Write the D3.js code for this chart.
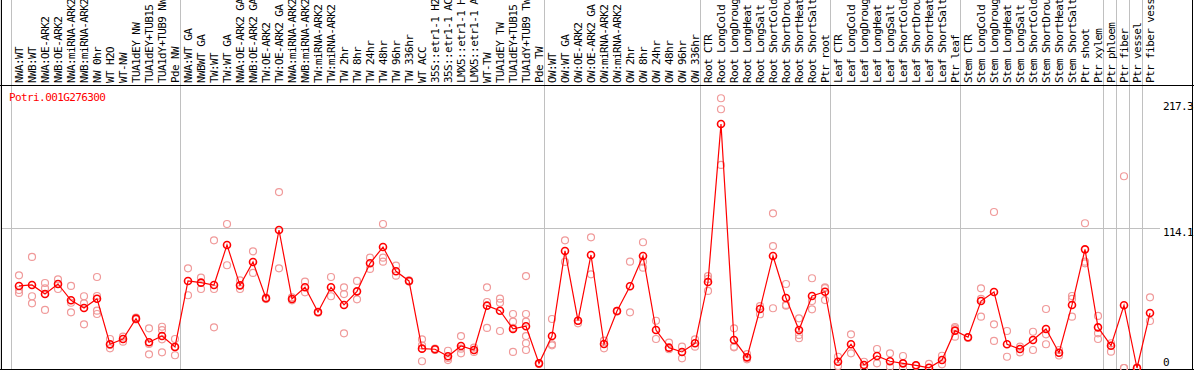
<!DOCTYPE html>
<html>
<head>
<meta charset="utf-8">
<script src="https://cdn.jsdelivr.net/npm/d3@7"></script>
<style>
  body { margin: 0; background: #fff; }
  svg { display: block; }
  text { font-family: "DejaVu Sans Mono", monospace; font-size: 11px; letter-spacing: -0.6px; }
</style>
</head>
<body>
<svg id="chart"></svg>
<script>
var W = 1194, H = 370;

var gene = "Potri.001G276300";

var samples = ["NWA:WT","NWB:WT","NWA:OE-ARK2","NWB:OE-ARK2","NWA:miRNA-ARK2","NWB:miRNA-ARK2","NW 0hr","WT H2O","WT-NW",
  "TUA1dEY NW","TUA1dEY+TUB15 NW","TUA1dY+TUB9 NW","Pde NW","NWA:WT GA","NWBWT GA","TW:WT","TW:WT GA",
  "NWA:OE-ARK2 GA","NWB:OE-ARK2 GA","TW:OE-ARK2","TW:OE-ARK2 GA","NWA:miRNA-ARK2","NWB:miRNA-ARK2","TW:miRNA-ARK2","TW:miRNA-ARK2",
  "TW 2hr","TW 8hr","TW 24hr","TW 48hr","TW 96hr","TW 336hr","WT ACC","35S::etr1-1 H2O","35S::etr1-1 ACC",
  "LMX5::etr1-1 H2O","LMX5::etr1-1 ACC","WT-TW","TUA1dEY TW","TUA1dEY+TUB15 TW","TUA1dY+TUB9 TW","Pde TW",
  "OW:WT","OW:WT GA","OW:OE-ARK2","OW:OE-ARK2 GA","OW:miRNA-ARK2","OW:miRNA-ARK2","OW 2hr","OW 8hr","OW 24hr","OW 48hr","OW 96hr","OW 336hr",
  "Root CTR","Root LongCold","Root LongDrought","Root LongHeat","Root LongSalt","Root ShortCold","Root ShortDrought","Root ShortHeat","Root ShortSalt","Ptr root",
  "Leaf CTR","Leaf LongCold","Leaf LongDrought","Leaf LongHeat","Leaf LongSalt","Leaf ShortCold","Leaf ShortDrought","Leaf ShortHeat","Leaf ShortSalt","Ptr leaf",
  "Stem CTR","Stem LongCold","Stem LongDrought","Stem LongHeat","Stem LongSalt","Stem ShortCold","Stem ShortDrought","Stem ShortHeat","Stem ShortSalt","Ptr shoot",
  "Ptr xylem","Ptr phloem","Ptr fiber","Ptr vessel","Ptr fiber vessel"];

// mean expression per sample
var means = [67.0,67.8,60.4,68.6,55.3,49.0,56.6,19.4,23.7,40.3,21.0,26.1,17.2,71.1,69.7,67.8,100.5,
  67.5,86.6,56.9,112.7,56.4,65.9,45.7,65.9,51.5,62.6,85.5,98.8,79.0,71.1,15.8,15.3,9.6,18.0,14.7,
  50.9,46.8,31.9,34.1,3.8,26.1,95.6,38.6,92.3,19.6,46.6,66.7,91.5,31.0,16.6,13.1,20.2,
  70.2,199.3,22.9,8.7,48.2,91.5,57.2,31.0,58.8,62.3,
  5.1,19.4,2.5,9.8,5.5,3.8,2.2,0.2,6.5,30.5,
  25.1,54.7,62.1,19.4,15.5,22.9,31.9,12.5,51.5,96.9,
  33.2,18.2,51.2,0,44.9];

// individual replicates per sample
var reps = [[75.7,63.7,61.3],[90.7,58.6,52.8],[69.4,65.1,47.4],[72.4,64.5,68.6],[67.0,53.3,45.5],[58.6,52.8,35.7],
  [74.3,58.8,46.8,44.1],[23.7,16.1,18.8],[25.6,21.5],[41.1,39.6],[32.4,11.2,19.6],[33.7,31.0,23.4,12.8],[23.7,10.4,17.2],
  [81.4,59.4],[73.8,64.5],[104.3,64.5,33.2],[117.6,83.9],[71.6,64.5],[95.3,77.6],[57.5,56.3],[143.7,81.4],[57.7,55.3],
  [70.5,61.8],[45.7,45.2],[74.3,58.6],[65.9,60.4,28.3],[71.1,56.1],[90.1,80.9],[117.6,90.1,86.8],[83.6,75.4],[71.6,70.6],
  [23.4,5.5,18.4],[15.8,14.8],[14.1,6.5,8.2],[26.1,12.0,15.8],[16.6,13.1],[65.9,32.7,53.9],[56.6,53.3,30.2],
  [44.1,37.8,13.1,32.7],[75.1,44.1,37.8,26.1,20.2,14.7],[3.8,3.3],[40.0,19.4,18.5],[104.3,86.6],[38.6,36.5],[106.7,76.5],
  [16.1,22.3],[46.6,46.1],[86.8,45.5],[102.7,86.8,81.9],[38.6,23.7],[20.7,15.3],[17.4,7.9],[23.4,17.4],
  [75.1,62.9,72.7],[220.3,211.3,165.8],[32.4,17.4,16.9],[11.4,7.1],[50.6,43.9],[126.3,99.6,48.8],[68.6,51.5,50.9],
  [40.6,24.3,27.0],[73.3,47.9,54.7],[65.9,55.5,65.3],
  [9.2,1.6],[27.5,12.0],[5.1,0],[15.5,3.8],[12.0,1.1],[9.8,0],[2.2,1.8],[3.3,0],[10.0,3.0],[32.4,25.6,33.5],
  [25.1,24.6],[65.1,56.4,41.9],[127.4,35.7,22.1],[30.2,9.2],[17.4,12.8],[29.6,14.7],[48.2,27.5,19.4],[14.7,10.2],
  [56.4,41.9,58.8],[118.2,86.8,85.5],
  [42.5,28.3,23.7],[20.2,13.3],[156.6,0,0],[0,0.4],[57.7,38.4]];

// sample index where a new group starts (vertical separators)
var groupStarts = [0,13,41,53,63,73,84,85,86,87,88];

var yTicks = [217.3, 114.1, 0];

var svg = d3.select("#chart").attr("width", W).attr("height", H);

var x = d3.scaleBand()
  .domain(d3.range(samples.length))
  .range([12.5, 12.5 + 13 * samples.length])
  .padding(0);

var y = d3.scaleLinear()
  .domain([0, 217.3])
  .range([368, 101.9]);

function cx(i) { return x(i) + x.bandwidth() / 2; }

// separators
svg.append("g").selectAll("line")
  .data(groupStarts)
  .enter().append("line")
    .attr("x1", function(d) { return Math.round(x(d) - 2) + 0.5; })
    .attr("x2", function(d) { return Math.round(x(d) - 2) + 0.5; })
    .attr("y1", 0).attr("y2", H)
    .attr("stroke", "#c0c0c0").attr("stroke-width", 1);

// horizontal grid at 114.1
svg.append("line")
  .attr("x1", 2).attr("x2", 1160)
  .attr("y1", Math.round(y(114.1)) + 0.5).attr("y2", Math.round(y(114.1)) + 0.5)
  .attr("stroke", "#c0c0c0").attr("stroke-width", 1);

// frame
svg.append("line").attr("x1", 1.5).attr("x2", 1.5).attr("y1", 0).attr("y2", H).attr("stroke", "#000");
svg.append("line").attr("x1", 0).attr("x2", W).attr("y1", 85.5).attr("y2", 85.5).attr("stroke", "#000");
svg.append("line").attr("x1", 0).attr("x2", W).attr("y1", 369.5).attr("y2", 369.5).attr("stroke", "#000");
svg.append("line").attr("x1", 1192.5).attr("x2", 1192.5).attr("y1", 0).attr("y2", H).attr("stroke", "#000");

// rotated sample labels (long ones run off the top, as in the original)
svg.append("g").selectAll("text")
  .data(samples)
  .enter().append("text")
    .attr("transform", function(d, i) { return "translate(" + (cx(i) + 4) + ",83) rotate(-90)"; })
    .attr("fill", "#000")
    .text(function(d) { return d; });

// y labels on the right
svg.append("g").selectAll("text")
  .data(yTicks)
  .enter().append("text")
    .attr("x", 1163)
    .attr("y", function(d) { return Math.min(y(d) + 8, 366); })
    .attr("fill", "#000")
    .text(function(d) { return d; });

svg.append("text")
  .attr("x", 9).attr("y", 101)
  .attr("fill", "#ff0000")
  .text(gene);

// replicates
var repPts = [];
reps.forEach(function(r, i) { r.forEach(function(v) { repPts.push({i: i, v: v}); }); });
svg.append("g").selectAll("circle")
  .data(repPts)
  .enter().append("circle")
    .attr("cx", function(d) { return cx(d.i); })
    .attr("cy", function(d) { return y(d.v); })
    .attr("r", 3.5)
    .attr("fill", "none")
    .attr("stroke", "#f09a9a")
    .attr("stroke-width", 1.2);

// mean line
var line = d3.line()
  .x(function(d, i) { return cx(i); })
  .y(function(d) { return y(d); });
svg.append("path")
  .datum(means)
  .attr("d", line)
  .attr("fill", "none")
  .attr("stroke", "#ff0000")
  .attr("stroke-width", 1.2);

svg.append("g").selectAll("circle")
  .data(means)
  .enter().append("circle")
    .attr("cx", function(d, i) { return cx(i); })
    .attr("cy", function(d) { return y(d); })
    .attr("r", 3.5)
    .attr("fill", "none")
    .attr("stroke", "#ff0000")
    .attr("stroke-width", 1.6);
</script>
</body>
</html>
